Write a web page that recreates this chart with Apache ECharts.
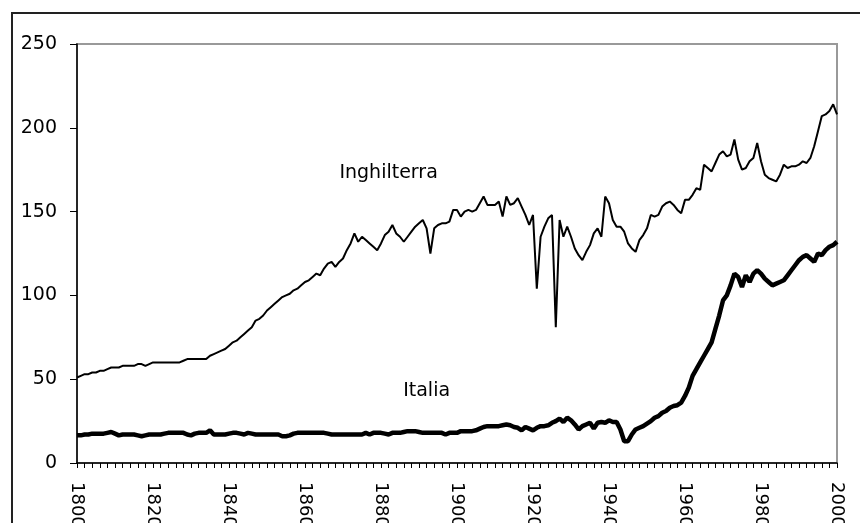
<!DOCTYPE html>
<html>
<head>
<meta charset="utf-8">
<script src="https://cdn.jsdelivr.net/npm/echarts@6/dist/echarts.min.js"></script>
<style>
  html, body { margin: 0; padding: 0; background: #fff; }
  #chart { width: 860px; height: 523px; }
</style>
</head>
<body>
<div id="chart"></div>
<script>
// years 1800..2000, one point per year
const years = []
for (let y = 1800; y <= 2000; y++) years.push(String(y))

const yTicks = [0, 50, 100, 150, 200, 250]

const inghilterra = [
  51, 52, 53, 53, 54, 54, 55, 55, 56, 57,
  57, 57, 58, 58, 58, 58, 59, 59, 58, 59,
  60, 60, 60, 60, 60, 60, 60, 60, 61, 62,
  62, 62, 62, 62, 62, 64, 65, 66, 67, 68,
  70, 72, 73, 75, 77, 79, 81, 85, 86, 88,
  91, 93, 95, 97, 99, 100, 101, 103, 104, 106,
  108, 109, 111, 113, 112, 116, 119, 120, 117, 120,
  122, 127, 131, 137, 132, 135, 133, 131, 129, 127,
  131, 136, 138, 142, 137, 135, 132, 135, 138, 141,
  143, 145, 140, 125, 140, 142, 143, 143, 144, 151,
  151, 147, 150, 151, 150, 151, 155, 159, 154, 154,
  154, 156, 147, 159, 154, 155, 158, 153, 148, 142,
  148, 104, 135, 141, 146, 148, 81, 145, 135, 141,
  135, 128, 124, 121, 126, 130, 137, 140, 135, 159,
  155, 145, 141, 141, 138, 131, 128, 126, 133, 136,
  140, 148, 147, 148, 153, 155, 156, 154, 151, 149,
  157, 157, 160, 164, 163, 178, 176, 174, 179, 184,
  186, 183, 184, 193, 181, 175, 176, 180, 182, 191,
  180, 172, 170, 169, 168, 172, 178, 176, 177, 177,
  178, 180, 179, 182, 189, 198, 207, 208, 210, 214,
  208
]

const italia = [
  16.5, 16.5, 17, 17, 17.5, 17.5, 17.5, 17.5, 18, 18.5,
  17.5, 16.5, 17, 17, 17, 17, 16.5, 16, 16.5, 17,
  17, 17, 17, 17.5, 18, 18, 18, 18, 18, 17,
  16.5, 17.5, 18, 18, 18, 19.5, 17, 17, 17, 17,
  17.5, 18, 18, 17.5, 17, 18, 17.5, 17, 17, 17,
  17, 17, 17, 17, 16, 16, 16.5, 17.5, 18, 18,
  18, 18, 18, 18, 18, 18, 17.5, 17, 17, 17,
  17, 17, 17, 17, 17, 17, 18, 17, 18, 18,
  18, 17.5, 17, 18, 18, 18, 18.5, 19, 19, 19,
  18.5, 18, 18, 18, 18, 18, 18, 17, 18, 18,
  18, 19, 19, 19, 19, 19.5, 20.5, 21.5, 22, 22,
  22, 22, 22.5, 23, 22.5, 21.5, 21, 19.5, 21.5, 20.5,
  19.5, 21, 22, 22, 22.5, 24, 25, 26.5, 24.5, 27,
  25.5, 23, 20, 22, 23, 24, 20.5, 24, 24.5, 24,
  25.5, 24.5, 24.5, 20, 13, 13, 17, 20, 21, 22,
  23.5, 25, 27, 28, 30, 31, 33, 34, 34.5, 36,
  40, 45, 52, 56, 60, 64, 68, 72, 80, 88,
  97, 100, 106, 113, 111, 105, 112, 108, 113, 115,
  113, 110, 108, 106, 107, 108, 109, 112, 115, 118,
  121, 123, 124, 122, 120, 125, 124, 127, 129, 130,
  132
]

const font = 'DejaVu Sans'
const chart = echarts.init(document.getElementById('chart'))

chart.setOption({
  animation: false,
  backgroundColor: '#fff',
  graphic: [
    {
      type: 'rect',
      z: -1,
      shape: { x: 12, y: 13, width: 900, height: 600 },
      style: { fill: 'none', stroke: '#222', lineWidth: 2 },
    },
  ],
  grid: {
    left: 77,
    right: 23,
    top: 44,
    bottom: 60,
    outerBoundsMode: 'none',
    show: true,
    borderColor: '#999',
    borderWidth: 2,
  },
  xAxis: {
    type: 'category',
    data: years,
    boundaryGap: false,
    axisLine: { lineStyle: { color: '#000', width: 1.5 } },
    axisTick: {
      interval: 1,
      length: 5,
      lineStyle: { color: '#000', width: 1 },
    },
    axisLabel: {
      interval: 19,
      rotate: -90,
      margin: 19,
      color: '#000',
      fontFamily: font,
      fontSize: 18,
    },
    splitLine: { show: false },
  },
  yAxis: {
    type: 'value',
    min: yTicks[0],
    max: yTicks[yTicks.length - 1],
    interval: 50,
    axisLine: { show: true, lineStyle: { color: '#000', width: 1.5 } },
    axisTick: { show: true, length: 7, lineStyle: { color: '#000' } },
    axisLabel: {
      margin: 20,
      color: '#000',
      fontFamily: font,
      fontSize: 19,
    },
    splitLine: { show: false },
  },
  series: [
    {
      name: 'Inghilterra',
      type: 'line',
      data: inghilterra,
      symbol: 'none',
      lineStyle: { color: '#000', width: 2 },
      markPoint: {
        symbol: 'circle',
        symbolSize: 0,
        label: {
          show: true,
          position: 'inside',
          formatter: 'Inghilterra',
          color: '#000',
          fontFamily: font,
          fontSize: 19,
        },
        data: [{ coord: ['1882', 173] }],
      },
    },
    {
      name: 'Italia',
      type: 'line',
      data: italia,
      symbol: 'none',
      lineStyle: { color: '#000', width: 4.5 },
      markPoint: {
        symbol: 'circle',
        symbolSize: 0,
        label: {
          show: true,
          position: 'inside',
          formatter: 'Italia',
          color: '#000',
          fontFamily: font,
          fontSize: 19,
        },
        data: [{ coord: ['1892', 43] }],
      },
    },
  ],
})
</script>
</body>
</html>
